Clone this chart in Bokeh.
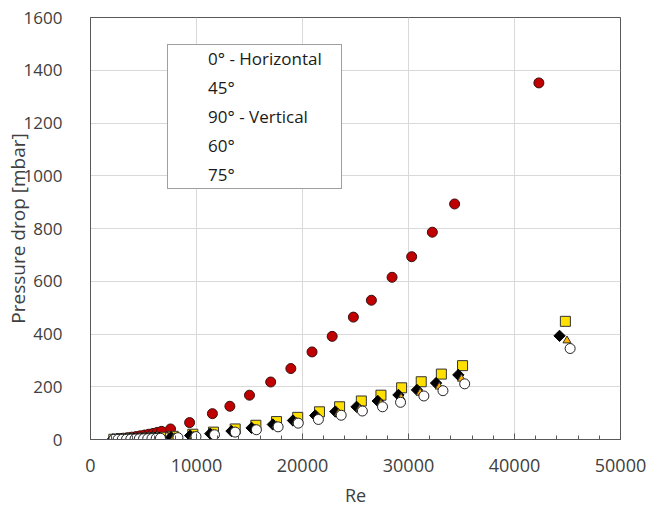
import math
from bokeh.plotting import figure
from bokeh.models import Range1d, SingleIntervalTicker, NumeralTickFormatter, LegendItem, Legend
from bokeh.embed import file_html
from bokeh.resources import INLINE

# ---- data ----
re_0 = [2700, 3100, 3500, 3900, 4300, 4700, 5100, 5500, 5900, 6300, 6700, 7550, 9350,
        11500, 13150, 15000, 17000, 18900, 20900, 22800, 24800, 26500, 28450, 30300,
        32250, 34350, 42300]
dp_0 = [3, 5, 7, 9, 11, 14, 17, 20, 23, 27, 31, 40, 64,
        98, 126, 168, 218, 269, 332, 391, 464, 528, 615, 693,
        786, 893, 1352]

re_45 = [2200, 2600, 3000, 3400, 3800, 4200, 4600, 5000, 5400, 5800, 6200, 6600, 7800,
         9650, 11600, 13650, 15600, 17550, 19550, 21600, 23500, 25550, 27400, 29350,
         31200, 33100, 35100, 44800]
dp_45 = [1, 1.5, 2, 2.5, 3, 3.5, 4, 5, 5.5, 6.5, 7.5, 8.5, 12,
         20, 28, 40, 54, 68, 84, 105, 124, 146, 168, 196,
         219, 248, 280, 448]

re_90 = [2100, 2500, 2900, 3300, 3700, 4100, 4500, 4900, 5300, 5700, 6100, 6500, 7600,
         9400, 11300, 13300, 15200, 17200, 19100, 21200, 23100, 25100, 27100, 29050,
         30800, 32600, 34700, 44250]
dp_90 = [0.8, 1, 1.5, 2, 2.5, 3, 3.5, 4, 4.5, 5, 6, 7, 9,
         15, 22, 32, 44, 57, 72, 91, 106, 124, 146, 169,
         188, 214, 245, 393]

re_60 = [2300, 2700, 3100, 3500, 3900, 4300, 4700, 5100, 5500, 5900, 6300, 6700, 7900,
         9700, 11600, 13600, 15500, 17500, 19400, 21500, 23400, 25400, 27400, 29300,
         31100, 32900, 35000, 44950]
dp_60 = [0.6, 0.9, 1.2, 1.6, 2, 2.5, 3, 3.5, 4, 4.5, 5.5, 6.5, 8,
         13, 20, 30, 41, 53, 67, 84, 100, 116, 136, 158,
         177, 200, 230, 375]

re_75 = [2200, 2600, 3000, 3400, 3800, 4200, 4600, 5000, 5400, 5800, 6200, 6600, 8250,
         9950, 11700, 13650, 15650, 17700, 19600, 21500, 23650, 25650, 27550, 29250,
         31450, 33250, 35300, 45250]
dp_75 = [0.5, 0.7, 1, 1.3, 1.6, 2, 2.4, 2.8, 3.2, 3.7, 4.2, 4.8, 7,
         11, 18, 28, 37, 48, 62, 76, 92, 108, 124, 141,
         165, 185, 211, 345]

labels = ["0° - Horizontal", "45°", "90° - Vertical", "60°", "75°"]
x_label = "Re"
y_label = "Pressure drop [mbar]"
x_max = 50000
y_max = 1600

FONT = "Open Sans"
TXT = "#404040"

p = figure(width=651, height=509, output_backend="svg", toolbar_location=None,
           x_range=Range1d(0, x_max), y_range=Range1d(0, y_max),
           min_border_left=90, min_border_right=31, min_border_top=17, min_border_bottom=69)

p.background_fill_color = "white"
p.border_fill_color = "white"
p.outline_line_color = "#595959"
p.outline_line_width = 1

# (x, y, marker, size, angle, fill, line, legend marker)
series = [
    (re_0, dp_0, "circle", 10, 0.0, "#C00000", "#3a1010", "circle"),
    (re_45, dp_45, "square", 10, 0.0, "#FFE000", "#333333", "square"),
    (re_90, dp_90, "square", 8, math.pi / 4, "#000000", "#000000", "diamond"),
    (re_60, dp_60, "triangle", 8, 0.0, "#FFB000", "#333333", "triangle"),
    (re_75, dp_75, "circle", 10, 0.0, "#FFFFFF", "#222222", "circle"),
]
items = []
for (xs, ys, mk, sz, ang, fc, lc, lmk), lab in zip(series, labels):
    p.scatter(xs, ys, marker=mk, size=sz, angle=ang, fill_color=fc, line_color=lc,
              line_width=1)
    # empty renderer that only supplies the legend symbol
    key = p.scatter([], [], marker=lmk, size=sz, fill_color=fc, line_color=lc, line_width=1)
    items.append(LegendItem(label=lab, renderers=[key]))

lg = Legend(items=items)
p.add_layout(lg, "center")

# axes
p.xaxis.ticker = SingleIntervalTicker(interval=10000, num_minor_ticks=5)
p.yaxis.ticker = SingleIntervalTicker(interval=200, num_minor_ticks=0)
p.xaxis.formatter = NumeralTickFormatter(format="0")
p.yaxis.formatter = NumeralTickFormatter(format="0")

for ax in (p.xaxis[0], p.yaxis[0]):
    ax.axis_line_color = "#595959"
    ax.axis_line_width = 1
    ax.major_label_text_font = FONT
    ax.major_label_text_color = TXT
    ax.axis_label_text_font = FONT
    ax.axis_label_text_font_style = "normal"
    ax.axis_label_text_color = TXT

p.xaxis.major_label_text_font_size = "18px"
p.yaxis.major_label_text_font_size = "17px"
p.xaxis.axis_label_text_font_size = "18px"
p.yaxis.axis_label_text_font_size = "19px"

p.xaxis.axis_label = x_label
p.yaxis.axis_label = y_label

p.xaxis.major_tick_in = 6
p.xaxis.major_tick_out = 0
p.xaxis.minor_tick_in = 4
p.xaxis.minor_tick_out = 0
p.xaxis.major_tick_line_color = "#595959"
p.xaxis.minor_tick_line_color = "#595959"
p.xaxis.major_label_standoff = 19
p.xaxis.axis_label_standoff = 8

p.yaxis.major_tick_in = 0
p.yaxis.major_tick_out = 0
p.yaxis.minor_tick_line_color = None
p.yaxis.major_label_standoff = 28
p.yaxis.axis_label_standoff = -10

p.xgrid.grid_line_color = "#D9D9D9"
p.ygrid.grid_line_color = "#D9D9D9"
p.xgrid.grid_line_width = 1
p.ygrid.grid_line_width = 1

# legend
lg.location = (77, 250)
lg.margin = 0
lg.padding = 2
lg.spacing = 6
lg.glyph_width = 38
lg.glyph_height = 20
lg.label_height = 20
lg.label_width = 131
lg.label_standoff = -4
lg.label_text_font = FONT
lg.label_text_font_size = "17px"
lg.label_text_color = "#1a1a1a"
lg.border_line_color = "#404040"
lg.border_line_width = 1
lg.background_fill_color = "white"
lg.background_fill_alpha = 1

open("out.html", "w").write(file_html(p, INLINE))
